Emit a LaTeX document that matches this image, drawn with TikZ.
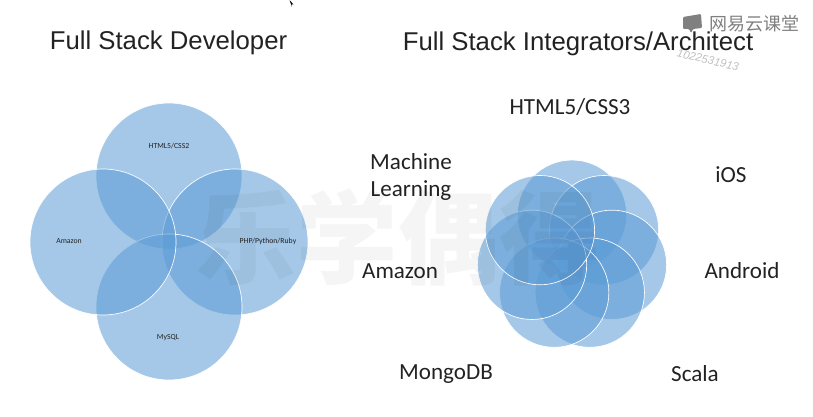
\documentclass[tikz,border=0pt]{standalone}
\usepackage{fontspec}
\setmainfont{Carlito}
\newfontfamily\titlefont{Liberation Sans}
\newfontfamily\cjkfont{Noto Sans CJK SC}
\usetikzlibrary{calc}
\definecolor{vennblue}{HTML}{5B9BD5}
\definecolor{inkdark}{HTML}{222222}
\definecolor{logogray}{HTML}{808080}

\begin{document}
\begin{tikzpicture}[x=0.75pt,y=-0.75pt,
     venn/.style={circle,draw=white,line width=0.5pt,fill=vennblue,fill opacity=0.55,inner sep=0pt},
     big/.style={venn,minimum size=109.5pt},
     small/.style={venn,minimum size=82pt},
     tiny/.style={font=\fontsize{5.8}{7}\selectfont,text=inkdark},
     skill/.style={font=\fontsize{17.3}{20}\selectfont,text=inkdark,align=center},
     headline/.style={font=\titlefont\fontsize{19.3}{21}\selectfont,text=inkdark}
     ]
\useasboundingbox (0,0) rectangle (813,417);

%Left venn, clockwise from the top
\node[big] (vtop) at (169,176) {};
\node[big] (vright) at (235,242) {};
\node[big] (vbottom) at (169,307) {};
\node[big] (vleft) at (103,242) {};

\node[tiny] (ltop) at (169,146) {HTML5/CSS2};
\node[tiny] (lright) at (268,241) {PHP/Python/Ruby};
\node[tiny] (lbottom) at (168,338) {MySQL};
\node[tiny] (lleft) at (69,241) {Amazon};

%Right flower of seven circles
\def \cx{572}
\def \cy{255.7}
\def \orbit{41}
\def \n{7}
\foreach [count=\i] \k in {1,...,\n}
   {
\pgfmathsetmacro{\ang}{90-(\i-1)*360/\n}
\node[small] (petal\i) at ({\cx+\orbit*cos(\ang)},{\cy-\orbit*sin(\ang)}) {};
   }

%Headlines
\node[headline] (devtitle) at (168.5,43) {Full Stack Developer};
\node[headline] (archtitle) at (578,44) {Full Stack Integrators/Architect};

%Skills round the flower
\node[skill] (html) at (570,107) {HTML5/CSS3};
\node[skill] (ios) at (731,175) {iOS};
\node[skill] (android) at (742,271) {Android};
\node[skill] (scala) at (695,374) {Scala};
\node[skill] (mongo) at (446,374) {MongoDB};
\node[skill] (amazon) at (400,271) {Amazon};
\node[skill] (ml) at (411,177) {Machine\\Learning};

%Watermark and player marks
\node[font=\cjkfont\bfseries\fontsize{76}{76}\selectfont,text=black,text opacity=0.04] (wmark) at (398,238) {乐学偶得};
\node[font=\cjkfont\fontsize{13.5}{14}\selectfont,text=logogray] (brand) at (754.5,24) {网易云课堂};
\node[font=\titlefont\itshape\fontsize{8.5}{9}\selectfont,text=black!25,rotate=-13] (userid) at (708,60) {1022531913};
\fill[logogray,rounded corners=0.8pt] (683,17) -- (701,14) -- (702,28) -- (693,29) -- (691,33) -- (689,29) -- (683,29) -- cycle;
\fill[black] (289.5,0) -- (293.5,4.5) -- (291.5,4.5) -- (292,7) -- cycle;
\end{tikzpicture}
\end{document}
